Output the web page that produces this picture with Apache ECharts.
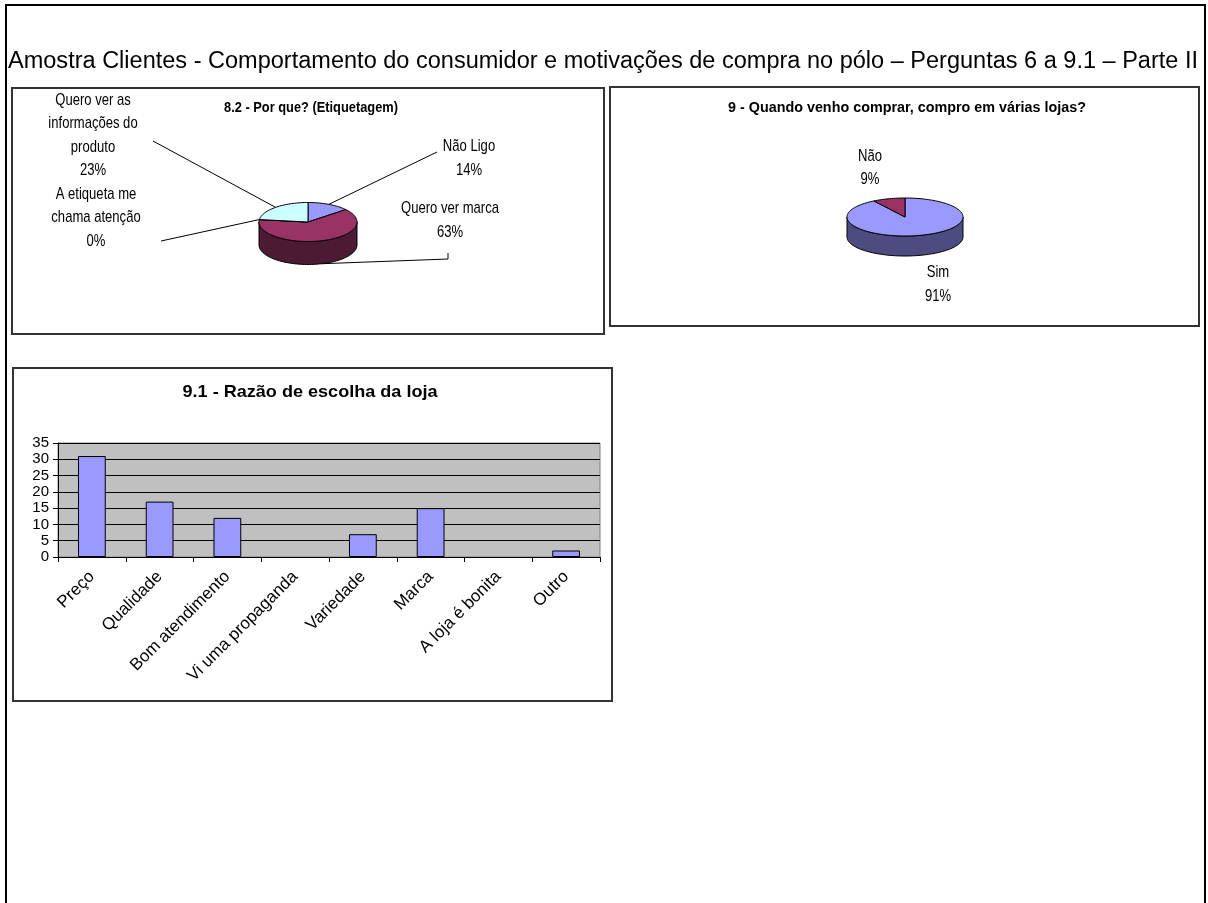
<!DOCTYPE html>
<html><head><meta charset="utf-8">
<script src="https://cdn.jsdelivr.net/npm/echarts@6/dist/echarts.min.js"></script>
<style>html,body{margin:0;padding:0;background:#fff}#c{width:1208px;height:903px}</style>
</head><body><div id="c"></div>
<script>
// ---------- data ----------
const pageTitle = 'Amostra Clientes - Comportamento do consumidor e motivações de compra no pólo – Perguntas 6 a 9.1 – Parte II';

const pie1Title = '8.2 - Por que? (Etiquetagem)';
const pie1Names = ['Não Ligo', 'Quero ver marca', 'A etiqueta me\nchama atenção', 'Quero ver as\ninformações do\nproduto'];
const pie1Values = [14, 63, 0, 23];

const pie2Title = '9 - Quando venho comprar, compro em várias lojas?';
const pie2Names = ['Sim', 'Não'];
const pie2Values = [91, 9];

const barTitle = '9.1 - Razão de escolha da loja';
const barCategories = ['Preço', 'Qualidade', 'Bom atendimento', 'Vi uma propaganda', 'Variedade', 'Marca', 'A loja é bonita', 'Outro'];
const barValues = [31, 17, 12, 0, 7, 15, 0, 2];
const yMin = 0, yMax = 35, yStep = 5;

// ---------- styles / layout ----------
const topColors = ['#9999FF', '#993366', '#FFFFCC', '#CCFFFF'];
const sideColors = ['#4C4C80', '#4D1A33', '#808066', '#668080'];
const ARIAL = "'Liberation Sans', Arial, sans-serif";

const measureCtx = document.createElement('canvas').getContext('2d');
function textW(text, size, weight) {
  measureCtx.font = (weight || 'normal') + ' ' + size + 'px ' + ARIAL;
  return measureCtx.measureText(text).width;
}
// horizontal squeeze/stretch of a text to reach a target width
function fitText(text, cx, cy, size, weight, targetW) {
  const s = targetW / textW(text, size, weight);
  return {type: 'text', x: cx, y: cy, scaleX: s,
    style: {text: text, x: 0, y: 0, align: 'center', verticalAlign: 'middle',
      fontFamily: ARIAL, fontWeight: weight || 'normal', fontSize: size, fill: '#000'}};
}
const labelSize = 17;
const labelScale = 98 / textW('Quero ver marca', labelSize);

const pie1Layout = {cx: 308, cy: 222, rx: 49, ry: 19.5, depth: 23};
const pie1LabelPos = [[469, 158.5], [450, 220.5], [96, 217.5], [93, 135.5]];
const pie1Leader = [
  {pts: [[437, 152]], at: 'top'},
  {pts: [[448, 253], [448, 259]], at: 'bottom'},
  {pts: [[161, 241]], at: 'top'},
  {pts: [[153, 141]], at: 'top'}
];
const pie2Layout = {cx: 905, cy: 217, rx: 58, ry: 19, depth: 20};
const pie2LabelPos = [[938, 284.5], [870, 168]];

function makePie3D(values, names, L, labelPos, leaders) {
  const total = values.reduce((a, b) => a + b, 0);
  const starts = [];
  let acc = 0;
  values.forEach(v => { starts.push(acc); acc += v; });
  const pt = (deg, dy) => {
    const r = deg * Math.PI / 180;
    return [L.cx + L.rx * Math.sin(r), L.cy - L.ry * Math.cos(r) + (dy || 0)];
  };
  return {
    type: 'custom',
    coordinateSystem: 'none',
    silent: true,
    data: values.map(v => [v]),
    renderItem: function (params, api) {
      const i = params.dataIndex;
      const v = api.value(0);
      const a0 = starts[i] / total * 360;
      const a1 = (starts[i] + v) / total * 360;
      const children = [];
      // side wall: front half only (90..270 deg clockwise from 12 o'clock)
      const s0 = Math.max(a0, 90), s1 = Math.min(a1, 270);
      if (s1 > s0) {
        const up = [], lo = [];
        const n = Math.max(1, Math.ceil((s1 - s0) / 2));
        for (let k = 0; k <= n; k++) {
          const d = s0 + (s1 - s0) * k / n;
          up.push(pt(d)); lo.push(pt(d, L.depth));
        }
        children.push({type: 'polygon', shape: {points: up.concat(lo.reverse())},
          style: {fill: sideColors[i], stroke: '#000', lineWidth: 1}});
      }
      // top face
      const pts = [[L.cx, L.cy]];
      const n2 = Math.max(1, Math.ceil((a1 - a0) / 2));
      for (let k = 0; k <= n2; k++) pts.push(pt(a0 + (a1 - a0) * k / n2));
      children.push({type: 'polygon', shape: {points: pts},
        style: {fill: topColors[i], stroke: '#000', lineWidth: 1}});
      // label
      const pct = Math.round(v / total * 100) + '%';
      children.push({type: 'text', x: labelPos[i][0], y: labelPos[i][1], scaleX: labelScale,
        style: {text: names[i] + '\n' + pct, x: 0, y: 0,
          align: 'center', verticalAlign: 'middle', fontFamily: ARIAL, fontSize: labelSize,
          lineHeight: 23.5, fill: '#000'}});
      if (leaders && leaders[i]) {
        const mid = (a0 + a1) / 2;
        const end = leaders[i].at === 'bottom' ? pt(mid, L.depth) : pt(mid);
        children.push({type: 'polyline', shape: {points: leaders[i].pts.concat([end])},
          style: {stroke: '#000', fill: null, lineWidth: 1}});
      }
      return {type: 'group', children: children};
    }
  };
}

const chart = echarts.init(document.getElementById('c'), null, {renderer: 'canvas'});
const option = {
  animation: false,
  backgroundColor: '#fff',
  graphic: [
    {type: 'rect', shape: {x: 6, y: 5, width: 1199, height: 910}, style: {fill: null, stroke: '#000', lineWidth: 2}},
    {type: 'rect', shape: {x: 12, y: 88, width: 592, height: 246}, style: {fill: null, stroke: '#333', lineWidth: 2}},
    {type: 'rect', shape: {x: 610, y: 87, width: 589, height: 239}, style: {fill: null, stroke: '#333', lineWidth: 2}},
    {type: 'rect', shape: {x: 13, y: 368, width: 599, height: 333}, style: {fill: null, stroke: '#333', lineWidth: 2}},
    fitText(pageTitle, 603, 62, 23, 'normal', 1190),
    fitText(pie1Title, 311, 108, 15, 'bold', 174),
    fitText(pie2Title, 907, 108, 14.5, 'bold', 358),
    fitText(barTitle, 310, 392, 17, 'bold', 255)
  ],
  grid: {left: 58, right: 1208 - 600, top: 443, bottom: 903 - 557, containLabel: false,
    show: true, backgroundColor: '#C0C0C0', borderColor: '#808080', borderWidth: 1},
  xAxis: {
    type: 'category', data: barCategories,
    axisLine: {show: true, lineStyle: {color: '#000', width: 1}},
    axisTick: {show: true, length: 5, alignWithLabel: false, interval: 0, lineStyle: {color: '#000'}},
    axisLabel: {interval: 0, rotate: 45, fontFamily: ARIAL, fontSize: 17, color: '#000', margin: 17},
    splitLine: {show: false}
  },
  yAxis: {
    type: 'value', min: yMin, max: yMax, interval: yStep,
    axisLine: {show: true, lineStyle: {color: '#000', width: 1}},
    axisTick: {show: true, length: 5, lineStyle: {color: '#000'}},
    axisLabel: {fontFamily: ARIAL, fontSize: 15, color: '#000', margin: 9},
    splitLine: {show: true, lineStyle: {color: '#000', width: 1}}
  },
  series: [
    {type: 'bar', silent: true, barWidth: '41%',
      data: barValues.map(v => ({value: v, itemStyle: v === 0 ? {borderWidth: 0} : {}})),
      itemStyle: {color: '#9999FF', borderColor: '#000', borderWidth: 1}},
    makePie3D(pie1Values, pie1Names, pie1Layout, pie1LabelPos, pie1Leader),
    makePie3D(pie2Values, pie2Names, pie2Layout, pie2LabelPos, null)
  ]
};
chart.setOption(option);
</script>
</body></html>
